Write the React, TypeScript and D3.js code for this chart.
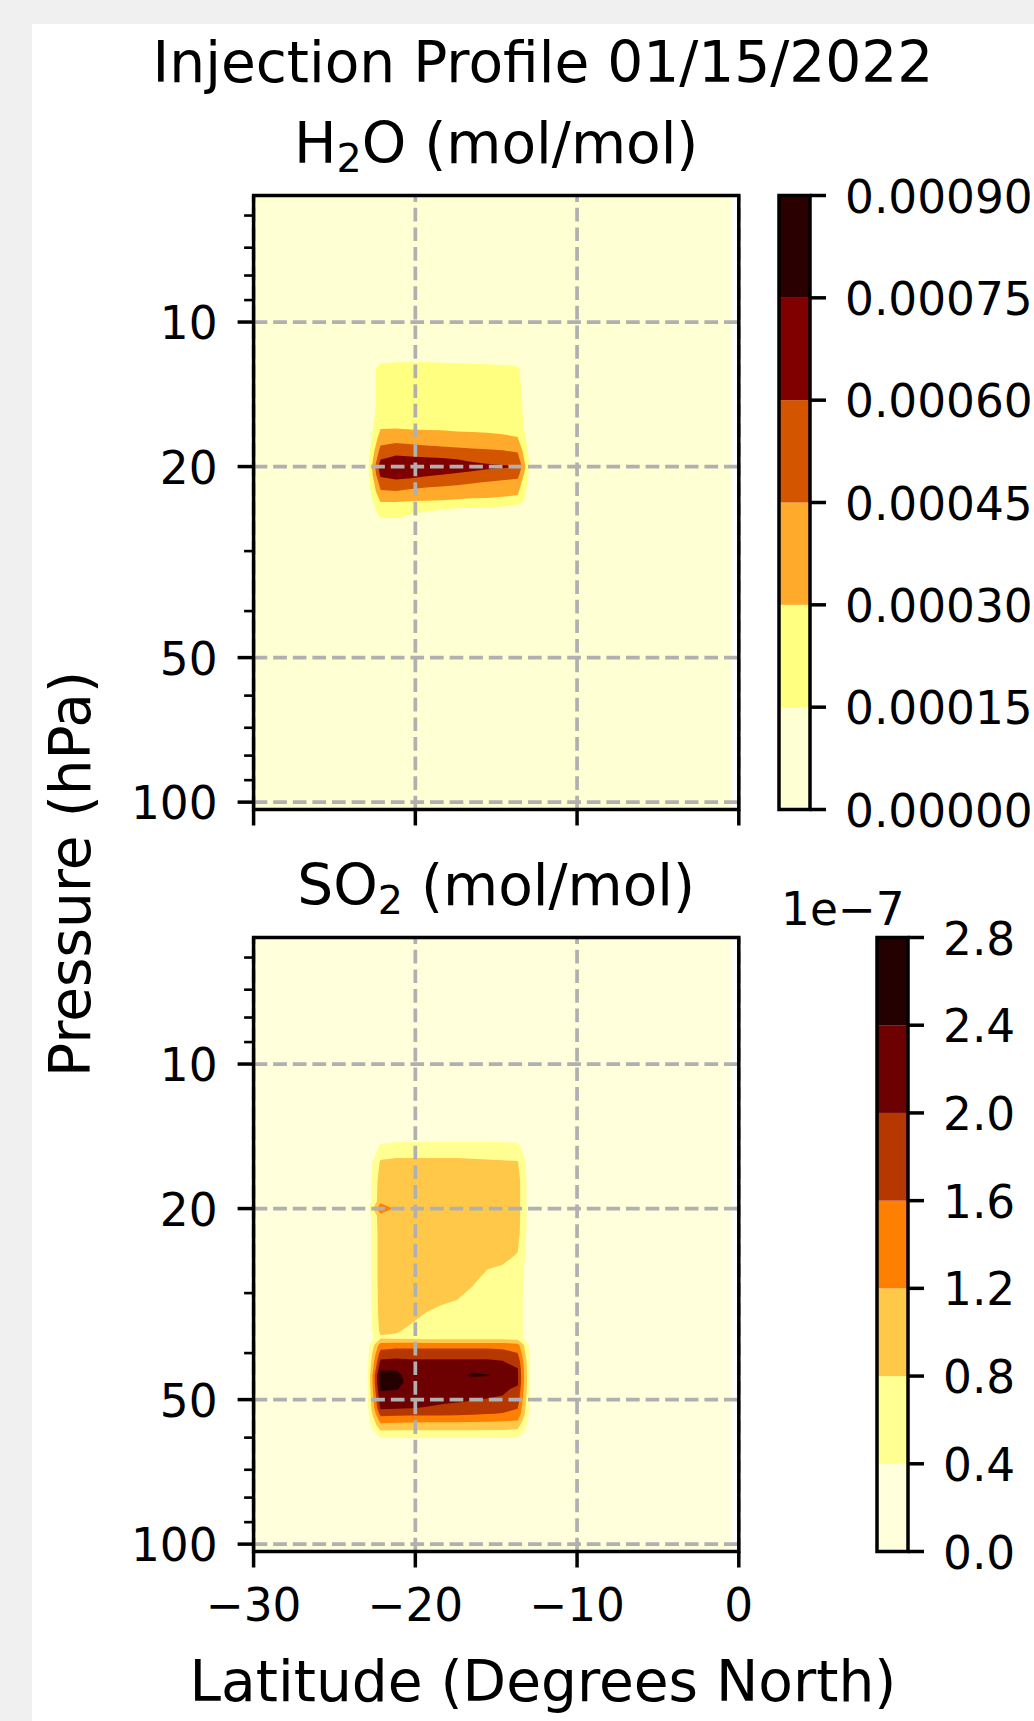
import React from 'react';
import * as d3 from 'd3';

// plume sub-grid columns (degrees north); first and last column are zero
const latitudes = [-23.09, -22.15, -21.2, -20.26, -19.32, -18.38, -17.43, -16.49, -15.55, -14.61, -13.67, -12.72];

// H2O, units of 1e-4 mol/mol
const h2oPressure = [11.5, 12.5, 14, 15.5, 16.5, 17.5, 18.5, 19.2, 20, 20.8, 21.6, 22.5, 23.5, 24.5, 25.5, 26.5];
const h2oValues = [
  [0, 0, 0, 0, 0, 0, 0, 0, 0, 0, 0, 0],
  [0, 2.2, 2.4, 2.4, 2.4, 2.3, 2.2, 2.1, 2.0, 1.9, 1.7, 0],
  [0, 2.2, 2.2, 2.2, 2.2, 2.2, 2.2, 2.1, 2.1, 2.1, 2.0, 0],
  [0, 2.3, 2.3, 2.3, 2.3, 2.3, 2.3, 2.3, 2.2, 2.2, 2.2, 0],
  [0, 2.8, 2.8, 2.7, 2.7, 2.7, 2.6, 2.6, 2.6, 2.5, 2.4, 0],
  [0, 3.8, 4.0, 3.9, 3.8, 3.7, 3.6, 3.5, 3.4, 3.3, 3.1, 0],
  [0, 5.0, 5.4, 5.2, 5.0, 4.9, 4.8, 4.7, 4.6, 4.5, 4.3, 0],
  [0, 5.8, 6.3, 6.2, 6.1, 6.0, 5.9, 5.6, 5.4, 5.2, 5.0, 0],
  [0, 7.0, 7.6, 7.2, 7.0, 6.9, 6.7, 6.5, 6.3, 6.2, 6.1, 0],
  [0, 6.3, 6.6, 6.5, 6.2, 6.0, 5.8, 5.6, 5.4, 5.2, 5.0, 0],
  [0, 5.2, 5.6, 5.4, 5.2, 5.0, 4.8, 4.6, 4.4, 4.2, 4.0, 0],
  [0, 4.4, 4.5, 4.2, 4.0, 3.9, 3.8, 3.7, 3.6, 3.5, 3.3, 0],
  [0, 3.2, 3.2, 3.1, 3.1, 3.0, 2.9, 2.8, 2.8, 2.7, 2.6, 0],
  [0, 2.2, 2.2, 2.0, 1.8, 1.6, 1.4, 1.3, 1.2, 1.1, 0.6, 0],
  [0, 1.6, 1.6, 1.2, 0.8, 0.5, 0.3, 0.2, 0.1, 0, 0, 0],
  [0, 0, 0, 0, 0, 0, 0, 0, 0, 0, 0, 0],
];
const h2oLevels = [0, 1.5, 3, 4.5, 6, 7.5, 9];

// SO2, units of 1e-7 mol/mol
const so2Pressure = [13.5, 14.8, 16, 17.5, 19.3, 20, 20.7, 22.5, 25, 28, 31, 33.5, 36, 37.2, 38.5, 40, 41.5, 43, 44.5, 46, 47.5, 49, 50.5, 52, 53.5, 55, 56.5, 58, 60, 62];
const so2Values = [
  [0, 0, 0, 0, 0, 0, 0, 0, 0, 0, 0, 0],
  [0, 0.45, 0.5, 0.5, 0.5, 0.5, 0.5, 0.5, 0.5, 0.5, 0.48, 0],
  [0, 0.85, 0.9, 0.9, 0.9, 0.9, 0.9, 0.88, 0.86, 0.84, 0.82, 0],
  [0, 1.0, 1.0, 1.0, 1.0, 1.0, 1.0, 1.0, 1.0, 0.98, 0.95, 0],
  [0, 1.05, 1.0, 1.0, 1.0, 1.0, 1.0, 1.0, 1.0, 0.98, 0.95, 0],
  [0, 1.6, 1.1, 1.0, 1.0, 1.0, 1.0, 1.0, 1.0, 0.98, 0.95, 0],
  [0, 1.05, 1.0, 1.0, 1.0, 1.0, 1.0, 1.0, 1.0, 0.98, 0.95, 0],
  [0, 1.0, 1.0, 1.0, 1.0, 1.0, 1.0, 1.0, 0.98, 0.95, 0.92, 0],
  [0, 1.0, 1.0, 1.0, 1.0, 1.0, 1.0, 0.98, 0.95, 0.9, 0.78, 0],
  [0, 1.0, 1.0, 1.0, 1.0, 0.98, 0.92, 0.88, 0.7, 0.65, 0.62, 0],
  [0, 0.98, 0.98, 0.95, 0.92, 0.86, 0.8, 0.66, 0.62, 0.6, 0.6, 0],
  [0, 0.95, 0.92, 0.88, 0.76, 0.66, 0.62, 0.6, 0.6, 0.6, 0.6, 0],
  [0, 0.88, 0.84, 0.72, 0.62, 0.6, 0.6, 0.6, 0.6, 0.6, 0.6, 0],
  [0, 0.75, 0.72, 0.68, 0.65, 0.65, 0.65, 0.65, 0.65, 0.65, 0.62, 0],
  [0, 1.4, 1.45, 1.45, 1.45, 1.45, 1.45, 1.45, 1.45, 1.45, 1.35, 0],
  [0, 1.75, 1.8, 1.8, 1.8, 1.8, 1.8, 1.8, 1.8, 1.75, 1.6, 0],
  [0, 2.05, 2.08, 2.05, 2.05, 2.05, 2.05, 2.05, 2.05, 2.0, 1.85, 0],
  [0, 2.3, 2.35, 2.2, 2.2, 2.2, 2.25, 2.3, 2.3, 2.2, 2.0, 0],
  [0, 2.6, 2.5, 2.25, 2.2, 2.2, 2.3, 2.45, 2.42, 2.3, 2.05, 0],
  [0, 2.6, 2.5, 2.3, 2.25, 2.2, 2.2, 2.2, 2.2, 2.15, 2.05, 0],
  [0, 2.45, 2.42, 2.3, 2.2, 2.2, 2.15, 2.1, 2.1, 2.05, 1.95, 0],
  [0, 2.3, 2.3, 2.25, 2.2, 2.15, 2.1, 2.05, 2.05, 2.0, 1.85, 0],
  [0, 2.2, 2.2, 2.15, 2.1, 2.05, 2.02, 1.98, 1.95, 1.9, 1.75, 0],
  [0, 2.08, 2.06, 2.02, 1.98, 1.93, 1.88, 1.84, 1.8, 1.76, 1.62, 0],
  [0, 1.75, 1.72, 1.7, 1.7, 1.7, 1.68, 1.65, 1.62, 1.58, 1.5, 0],
  [0, 1.4, 1.38, 1.36, 1.35, 1.35, 1.35, 1.33, 1.32, 1.3, 1.25, 0],
  [0, 1.1, 1.08, 1.06, 1.05, 1.05, 1.05, 1.05, 1.03, 1.0, 0.95, 0],
  [0, 0.8, 0.78, 0.78, 0.78, 0.78, 0.78, 0.78, 0.78, 0.78, 0.75, 0],
  [0, 0.42, 0.42, 0.42, 0.42, 0.42, 0.42, 0.42, 0.42, 0.42, 0.4, 0],
  [0, 0, 0, 0, 0, 0, 0, 0, 0, 0, 0, 0],
];
const so2Levels = [0, 0.4, 0.8, 1.2, 1.6, 2.0, 2.4, 2.8];

const latRange = [-30, 0];
const dataLatMax = -0.47;
const pressureRange = [5.45, 103.6];
const xTicks = [-30, -20, -10, 0];
const yTicks = [10, 20, 50, 100];
const yMinorTicks = [6, 7, 8, 9, 30, 40, 60, 70, 80, 90];

const W = 1034;
const H = 1721;
const FONT = '"DejaVu Sans", sans-serif';
const TICK_FS = 45.4;
const LABEL_FS = 56.6;
const LW = 3.5;
const GRID_LW = 3.7;
const AX_LEFT = 253.6;
const AX_RIGHT = 738.8;
const AX_H = 614;

// afmhot_r sampled at t in [0, 1]
const afmhotR = (t: number) => {
  const x = 1 - t;
  const c = (v: number) => Math.round(255 * Math.max(0, Math.min(1, v)));
  return `rgb(${c(2 * x)},${c(2 * x - 0.5)},${c(2 * x - 1)})`;
};

const bandColors = (levels: number[]) => {
  const n = levels.length - 1;
  return d3.range(n).map(i => afmhotR((i + 0.5) / n));
};

const interp = (arr: number[], f: number) => {
  const i = Math.max(0, Math.min(arr.length - 2, Math.floor(f)));
  const t = f - i;
  return arr[i] + (arr[i + 1] - arr[i]) * t;
};

const x = d3.scaleLinear().domain(latRange).range([AX_LEFT, AX_RIGHT]);

function Panel({ top, title, sub, rest, values, pressure, levels, showXLabels, cbX, cbFormat, offsetText }: any) {
  const y = d3.scaleLog().domain(pressureRange).range([top, top + AX_H]);
  const colors = bandColors(levels);
  const nx = values[0].length;
  const ny = values.length;
  const gen = d3.contours().size([nx, ny]).thresholds(levels.slice(1, -1));
  const proj = d3.geoTransform({
    point: function (px: number, py: number) {
      this.stream.point(x(interp(latitudes, px - 0.5)), y(interp(pressure, py - 0.5)));
    },
  });
  const path = d3.geoPath(proj);
  const bands = gen(values.flat());
  const bottom = top + AX_H;
  const dash = `${(GRID_LW * 3.7).toFixed(1)},${(GRID_LW * 1.6).toFixed(1)}`;

  const cbW = 31;
  const cbY = d3.scaleLinear().domain([levels[0], levels[levels.length - 1]]).range([bottom, top]);
  const cx = (AX_LEFT + AX_RIGHT) / 2;

  return (
    <g>
      <text x={cx} y={top - 32.5} textAnchor="middle" fontSize={LABEL_FS} fontFamily={FONT}>
        {title}<tspan dy={9} fontSize={LABEL_FS * 0.7}>{sub}</tspan><tspan dy={-9}>{rest}</tspan>
      </text>
      <rect x={AX_LEFT} y={top} width={x(dataLatMax) - AX_LEFT} height={AX_H} fill={colors[0]} />
      {bands.map((b, i) => (
        <path key={i} d={path(b as any) || ''} fill={colors[i + 1]} fillRule="evenodd" />
      ))}
      {xTicks.map(t => (
        <line key={'gx' + t} x1={x(t)} x2={x(t)} y1={bottom} y2={top} stroke="#b0b0b0" strokeWidth={GRID_LW} strokeDasharray={dash} />
      ))}
      {yTicks.map(t => (
        <line key={'gy' + t} x1={AX_LEFT} x2={AX_RIGHT} y1={y(t)} y2={y(t)} stroke="#b0b0b0" strokeWidth={GRID_LW} strokeDasharray={dash} />
      ))}
      <rect x={AX_LEFT} y={top} width={AX_RIGHT - AX_LEFT} height={AX_H} fill="none" stroke="#000" strokeWidth={LW} />
      {xTicks.map(t => (
        <g key={'xt' + t}>
          <line x1={x(t)} x2={x(t)} y1={bottom} y2={bottom + 16} stroke="#000" strokeWidth={LW} />
          {showXLabels && (
            <text x={x(t)} y={bottom + 69} textAnchor="middle" fontSize={TICK_FS} fontFamily={FONT}>
              {t < 0 ? '\u2212' + Math.abs(t) : String(t)}
            </text>
          )}
        </g>
      ))}
      {yTicks.map(t => (
        <g key={'yt' + t}>
          <line x1={AX_LEFT} x2={AX_LEFT - 16} y1={y(t)} y2={y(t)} stroke="#000" strokeWidth={LW} />
          <text x={AX_LEFT - 36} y={y(t) + 17} textAnchor="end" fontSize={TICK_FS} fontFamily={FONT}>{t}</text>
        </g>
      ))}
      {yMinorTicks.map(t => (
        <line key={'ym' + t} x1={AX_LEFT} x2={AX_LEFT - 9.5} y1={y(t)} y2={y(t)} stroke="#000" strokeWidth={LW * 0.75} />
      ))}

      {/* colorbar */}
      {colors.map((c, i) => (
        <rect key={'cb' + i} x={cbX} y={cbY(levels[i + 1])} width={cbW} height={cbY(levels[i]) - cbY(levels[i + 1])} fill={c} />
      ))}
      <rect x={cbX} y={top} width={cbW} height={AX_H} fill="none" stroke="#000" strokeWidth={LW} />
      {levels.map((l: number) => (
        <g key={'cbt' + l}>
          <line x1={cbX + cbW} x2={cbX + cbW + 16} y1={cbY(l)} y2={cbY(l)} stroke="#000" strokeWidth={LW} />
          <text x={cbX + cbW + 35} y={cbY(l) + 17} fontSize={TICK_FS} fontFamily={FONT}>{cbFormat(l)}</text>
        </g>
      ))}
      {offsetText && (
        <text x={781} y={top - 12.5} fontSize={TICK_FS} fontFamily={FONT}>{offsetText}</text>
      )}
    </g>
  );
}

export default function App() {
  return (
    <div style={{ position: 'absolute', left: 0, top: 0 }}>
      <svg width={W} height={H} style={{ display: 'block' }}>
        <rect x={0} y={0} width={W} height={H} fill="#f0f0f0" />
        <rect x={32} y={24} width={W - 32} height={H - 24} fill="#ffffff" />
        <text x={543} y={82} textAnchor="middle" fontSize={LABEL_FS} fontFamily={FONT}>Injection Profile 01/15/2022</text>
        <Panel
          top={195.5}
          title="H"
          sub="2"
          rest="O (mol/mol)"
          values={h2oValues}
          pressure={h2oPressure}
          levels={h2oLevels}
          showXLabels={false}
          cbX={779}
          cbFormat={(v: number) => (v * 1e-4).toFixed(5)}
        />
        <Panel
          top={937.5}
          title="SO"
          sub="2"
          rest=" (mol/mol)"
          values={so2Values}
          pressure={so2Pressure}
          levels={so2Levels}
          showXLabels={true}
          cbX={877}
          cbFormat={(v: number) => v.toFixed(1)}
          offsetText={'1e\u22127'}
        />
        <text transform="translate(90,874) rotate(-90)" textAnchor="middle" fontSize={LABEL_FS} fontFamily={FONT}>Pressure (hPa)</text>
        <text x={543} y={1701} textAnchor="middle" fontSize={LABEL_FS} fontFamily={FONT}>Latitude (Degrees North)</text>
      </svg>
    </div>
  );
}
